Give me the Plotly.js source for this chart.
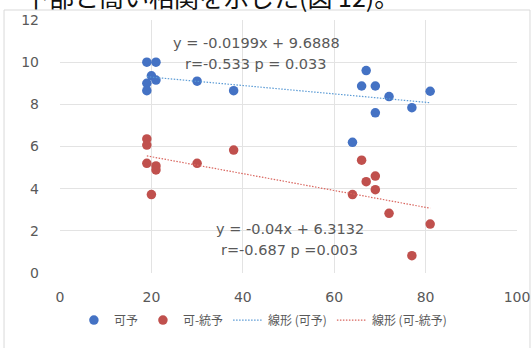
<!DOCTYPE html>
<html>
<head>
<meta charset="utf-8">
<script src="https://cdn.plot.ly/plotly-3.0.1.min.js"></script>
<style>html,body{margin:0;padding:0;background:#fff;}#chart{width:532px;height:348px;}</style>
</head>
<body>
<div id="chart"></div>
<script>
// Data
const xValues = [19, 19, 19, 20, 21, 21, 30, 38, 64, 66, 67, 69, 69, 72, 77, 81];
const kaYo = [10.0, 9.0, 8.65, 9.35, 10.0, 9.15, 9.1, 8.65, 6.2, 8.87, 9.6, 8.87, 7.6, 8.37, 7.84, 8.62];
const kaTouYo = [6.36, 6.07, 5.2, 3.72, 5.08, 4.89, 5.2, 5.83, 3.72, 5.35, 4.33, 4.6, 3.95, 2.83, 0.82, 2.32];
const seriesNames = ["可予", "可-統予", "線形 (可予)", "線形 (可-統予)"];
const trendBlue = {slope: -0.0199, intercept: 9.6888};
const trendRed = {slope: -0.04, intercept: 6.3132};
const eqBlue = ["y = -0.0199x + 9.6888", "r=-0.533 p = 0.033"];
const eqRed = ["y = -0.04x + 6.3132", "r=-0.687 p =0.003"];
const xTicks = [0, 20, 40, 60, 80, 100];
const yTicks = [0, 2, 4, 6, 8, 10, 12];
const caption = "下部と高い相関を示した(図 12)。";

const xMin = Math.min(...xValues), xMax = Math.max(...xValues);
const lineX = [xMin, xMax];
const blueLineY = lineX.map(x => trendBlue.slope * x + trendBlue.intercept);
const redLineY = lineX.map(x => trendRed.slope * x + trendRed.intercept);

const numFont = "DejaVu Sans, Noto Sans CJK JP, sans-serif";
const grey = "#595959";

const traces = [
  {x: xValues, y: kaYo, type: "scatter", mode: "markers", name: seriesNames[0],
   marker: {color: "#4472C4", size: 9.5}},
  {x: xValues, y: kaTouYo, type: "scatter", mode: "markers", name: seriesNames[1],
   marker: {color: "#C0504D", size: 9.5}},
  {x: lineX, y: blueLineY, type: "scatter", mode: "lines", name: seriesNames[2],
   line: {color: "#5B9BD5", width: 1.2, dash: "1.5px,1.5px"}},
  {x: lineX, y: redLineY, type: "scatter", mode: "lines", name: seriesNames[3],
   line: {color: "#D9665F", width: 1.2, dash: "1.5px,1.5px"}}
];

const annFont = {family: numFont, size: 14.5, color: grey};
const layout = {
  width: 532, height: 348,
  margin: {l: 60, r: 15, t: 20, b: 75},
  paper_bgcolor: "#fff", plot_bgcolor: "#fff",
  font: {family: numFont, color: grey, size: 14},
  showlegend: true,
  legend: {orientation: "h", x: 0.444, xanchor: "center", y: -0.186, yanchor: "middle",
           font: {family: "Noto Sans CJK JP, sans-serif", size: 12, color: grey},
           itemwidth: 30, tracegroupgap: 0, bgcolor: "rgba(0,0,0,0)"},
  xaxis: {range: [0, 100], tickvals: xTicks, ticktext: xTicks.map(String),
          showgrid: true, gridcolor: "#E3E3E3", gridwidth: 1,
          zeroline: false, showline: false, ticks: "", ticklabelstandoff: 14,
          tickfont: {family: numFont, size: 14, color: grey}, fixedrange: true},
  yaxis: {range: [0, 12], tickvals: yTicks, ticktext: yTicks.map(String),
          showgrid: true, gridcolor: "#E3E3E3", gridwidth: 1,
          zeroline: false, showline: false, ticks: "", ticklabelstandoff: 20,
          tickfont: {family: numFont, size: 14, color: grey}, fixedrange: true},
  annotations: [
    {text: eqBlue[0], x: 42.9, y: 10.92, xref: "x", yref: "y", showarrow: false, font: annFont},
    {text: eqBlue[1], x: 42.9, y: 9.92, xref: "x", yref: "y", showarrow: false, font: annFont},
    {text: eqRed[0], x: 50.3, y: 2.09, xref: "x", yref: "y", showarrow: false, font: annFont},
    {text: eqRed[1], x: 50.3, y: 1.09, xref: "x", yref: "y", showarrow: false, font: annFont},
    {text: caption, xref: "paper", yref: "paper", x: -0.083, xanchor: "left",
     y: 1.095, yanchor: "middle", showarrow: false,
     font: {family: "Noto Sans CJK JP, sans-serif", size: 25, color: "#111"}}
  ],
  shapes: [
    {type: "rect", xref: "paper", yref: "paper", x0: -0.1225, x1: 1.0284, y0: -0.36, y1: 1.0395,
     line: {color: "#D9D9D9", width: 1}, fillcolor: "rgba(0,0,0,0)", layer: "below"}
  ]
};

Plotly.newPlot("chart", traces, layout, {displayModeBar: false, staticPlot: true});
</script>
</body>
</html>
